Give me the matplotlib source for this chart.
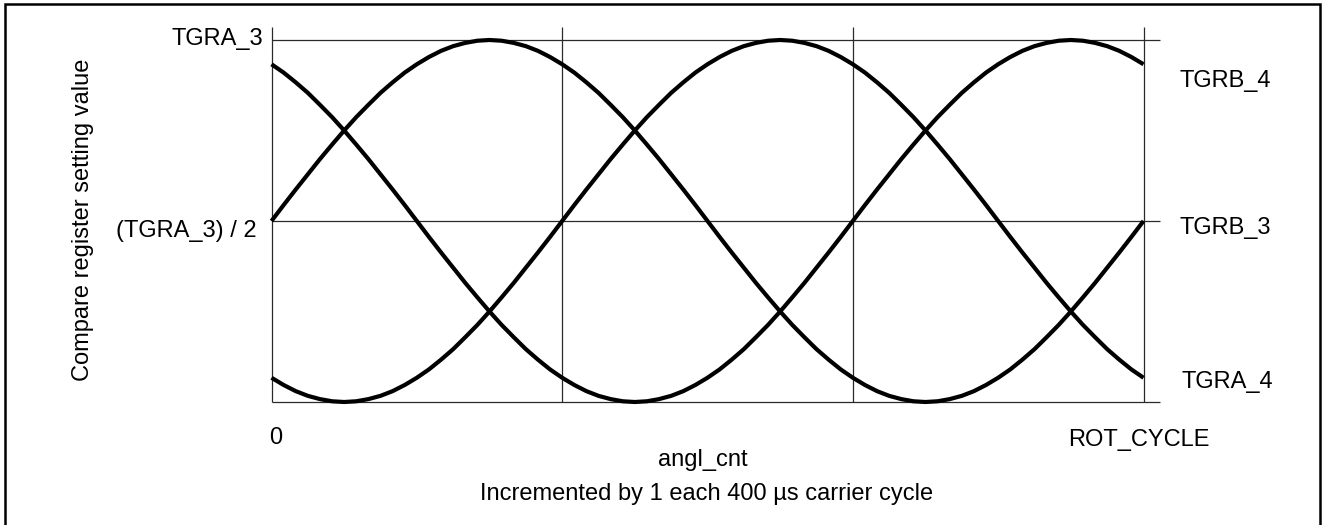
import matplotlib
matplotlib.use("Agg")
import matplotlib.pyplot as plt
from matplotlib.patches import Rectangle

# ---- data ----
angle = list(range(0, 361, 5))  # angl_cnt, in electrical degrees over ROT_CYCLE
phase_u = [0.500, 0.544, 0.587, 0.629, 0.671, 0.711, 0.750, 0.787, 0.821, 0.854,
           0.883, 0.910, 0.933, 0.953, 0.970, 0.983, 0.992, 0.998, 1.000, 0.998,
           0.992, 0.983, 0.970, 0.953, 0.933, 0.910, 0.883, 0.854, 0.821, 0.787,
           0.750, 0.711, 0.671, 0.629, 0.587, 0.544, 0.500, 0.456, 0.413, 0.371,
           0.329, 0.289, 0.250, 0.213, 0.179, 0.146, 0.117, 0.090, 0.067, 0.047,
           0.030, 0.017, 0.008, 0.002, 0.000, 0.002, 0.008, 0.017, 0.030, 0.047,
           0.067, 0.090, 0.117, 0.146, 0.179, 0.213, 0.250, 0.289, 0.329, 0.371,
           0.413, 0.456, 0.500]
phase_v = [0.067, 0.047, 0.030, 0.017, 0.008, 0.002, 0.000, 0.002, 0.008, 0.017,
           0.030, 0.047, 0.067, 0.090, 0.117, 0.146, 0.179, 0.213, 0.250, 0.289,
           0.329, 0.371, 0.413, 0.456, 0.500, 0.544, 0.587, 0.629, 0.671, 0.711,
           0.750, 0.787, 0.821, 0.854, 0.883, 0.910, 0.933, 0.953, 0.970, 0.983,
           0.992, 0.998, 1.000, 0.998, 0.992, 0.983, 0.970, 0.953, 0.933, 0.910,
           0.883, 0.854, 0.821, 0.787, 0.750, 0.711, 0.671, 0.629, 0.587, 0.544,
           0.500, 0.456, 0.413, 0.371, 0.329, 0.289, 0.250, 0.213, 0.179, 0.146,
           0.117, 0.090, 0.067]
phase_w = [0.933, 0.910, 0.883, 0.854, 0.821, 0.787, 0.750, 0.711, 0.671, 0.629,
           0.587, 0.544, 0.500, 0.456, 0.413, 0.371, 0.329, 0.289, 0.250, 0.213,
           0.179, 0.146, 0.117, 0.090, 0.067, 0.047, 0.030, 0.017, 0.008, 0.002,
           0.000, 0.002, 0.008, 0.017, 0.030, 0.047, 0.067, 0.090, 0.117, 0.146,
           0.179, 0.213, 0.250, 0.289, 0.329, 0.371, 0.413, 0.456, 0.500, 0.544,
           0.587, 0.629, 0.671, 0.711, 0.750, 0.787, 0.821, 0.854, 0.883, 0.910,
           0.933, 0.953, 0.970, 0.983, 0.992, 0.998, 1.000, 0.998, 0.992, 0.983,
           0.970, 0.953, 0.933]
level_lines = [1.0, 0.5, 0.0]          # TGRA_3, TGRA_3/2, 0
grid_x = [0, 120, 240, 360]             # vertical division lines
left_labels = ["TGRA_3", "(TGRA_3) / 2"]
right_labels = ["TGRB_4", "TGRB_3", "TGRA_4"]
x_start_label = "0"
x_end_label = "ROT_CYCLE"
x_title = "angl_cnt"
x_subtitle = "Incremented by 1 each 400 \u00b5s carrier cycle"
y_title = "Compare register setting value"

plt.rcParams['font.family'] = ['Liberation Sans', 'DejaVu Sans']
W, H = 1327, 525
fig = plt.figure(figsize=(W / 100, H / 100), dpi=100)

def fx(px):
    return px / W

def fy(py):
    return 1 - py / H

# axes placement (pixel frame of the plotting area)
ax_l, ax_r, ax_t, ax_b = 271.5, 1143.5, 40.0, 402.0
ax = fig.add_axes([fx(ax_l), fy(ax_b), fx(ax_r) - fx(ax_l), fy(ax_t) - fy(ax_b)])
ax.set_xlim(0, 360)
ax.set_ylim(0, 1)
ax.axis('off')

x_ext = 360 * (1160 - ax_l) / (ax_r - ax_l)
y_ext = (ax_b - 27) / (ax_b - ax_t)

thin = dict(color='#2a2a2a', lw=0.9, clip_on=False, solid_capstyle='butt')
for lv in level_lines:
    ax.plot([0, x_ext], [lv, lv], **thin)
for gx in grid_x:
    ax.plot([gx, gx], [0, y_ext], **thin)

for series in (phase_u, phase_v, phase_w):
    ax.plot(angle, series, color='black', lw=3.0, clip_on=False,
            solid_joinstyle='round', solid_capstyle='butt')

fs = 17
fig.text(fx(263), fy(45), left_labels[0], ha='right', va='baseline', fontsize=fs)
fig.text(fx(257), fy(237), left_labels[1], ha='right', va='baseline', fontsize=fs)
fig.text(fx(1180), fy(87), right_labels[0], ha='left', va='baseline', fontsize=fs)
fig.text(fx(1180), fy(234), right_labels[1], ha='left', va='baseline', fontsize=fs)
fig.text(fx(1181), fy(388), right_labels[2], ha='left', va='baseline', fontsize=fs)
fig.text(fx(269), fy(444), x_start_label, ha='left', va='baseline', fontsize=fs)
fig.text(fx(1139), fy(446), x_end_label, ha='center', va='baseline', fontsize=fs)
fig.text(fx(703), fy(466), x_title, ha='center', va='baseline', fontsize=fs)
fig.text(fx(707), fy(500), x_subtitle, ha='center', va='baseline', fontsize=fs)
fig.text(fx(83.5), fy(220), y_title, ha='center', va='center', rotation=90, fontsize=fs)

# outer frame
fig.patches.append(Rectangle((fx(4.5), fy(535)), fx(1320) - fx(4.5), fy(4) - fy(535),
                             transform=fig.transFigure, fill=False,
                             edgecolor='black', lw=1.8))

fig.savefig("out.png", dpi=100, facecolor='white')
